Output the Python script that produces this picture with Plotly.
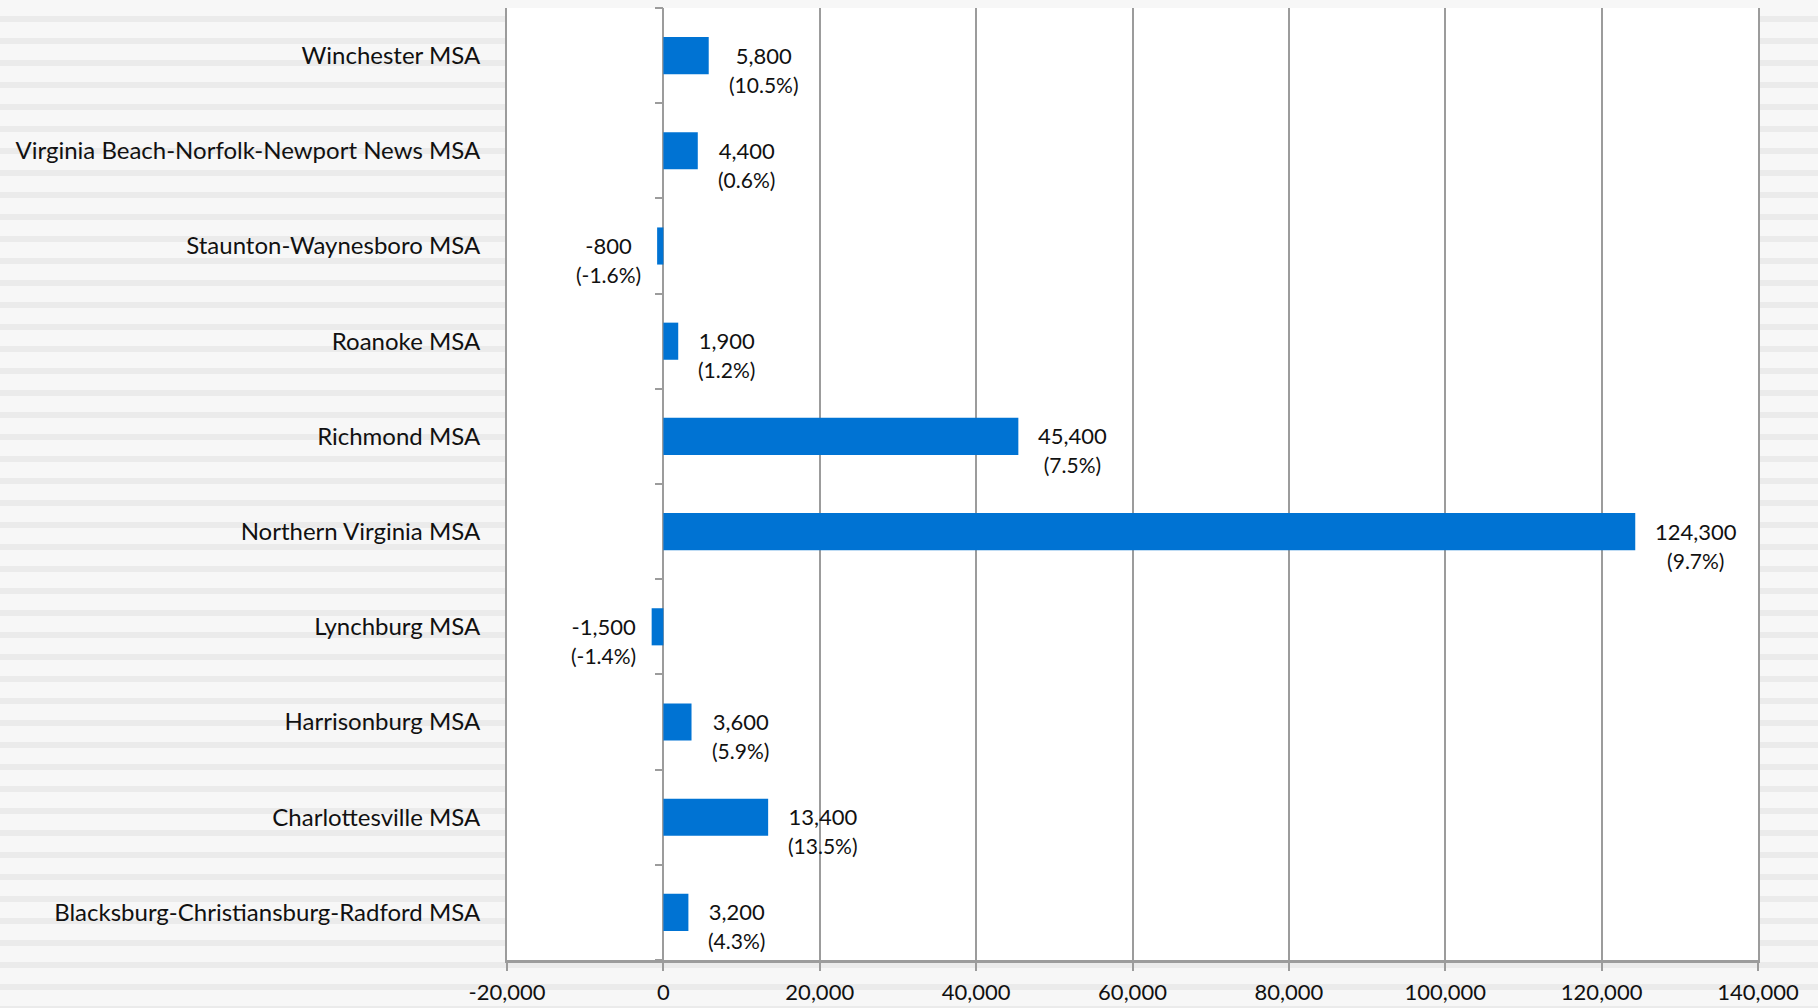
import plotly.graph_objects as go

# ---- data (bottom-to-top order as plotted) ----
categories = [
    "Blacksburg-Christiansburg-Radford MSA",
    "Charlottesville MSA",
    "Harrisonburg MSA",
    "Lynchburg MSA",
    "Northern Virginia MSA",
    "Richmond MSA",
    "Roanoke MSA",
    "Staunton-Waynesboro MSA",
    "Virginia Beach-Norfolk-Newport News MSA",
    "Winchester MSA",
]
job_change = [3200, 13400, 3600, -1500, 124300, 45400, 1900, -800, 4400, 5800]
pct_change = [4.3, 13.5, 5.9, -1.4, 9.7, 7.5, 1.2, -1.6, 0.6, 10.5]
x_tick_values = [-20000, 0, 20000, 40000, 60000, 80000, 100000, 120000, 140000]
x_tick_labels = ["-20,000", "0", "20,000", "40,000", "60,000", "80,000",
                 "100,000", "120,000", "140,000"]

# ---- style ----
W, H = 1818, 1008
ML, MR, MT, MB = 507, 60, 8, 48
FONT = "Lato"
BAR_COLOR = "#0073D3"
GRID = "#9c9c9c"
TEXT = "#111111"

fig = go.Figure()
fig.add_trace(go.Bar(
    x=job_change, y=categories, orientation="h",
    marker=dict(color=BAR_COLOR, line=dict(width=0)),
    yaxis="y", hoverinfo="x+y",
))
# invisible helper trace on the zero-line axis (draws category boundary ticks)
fig.add_trace(go.Scatter(
    x=[0] * len(categories), y=categories, mode="markers",
    marker=dict(opacity=0), yaxis="y2", hoverinfo="skip", showlegend=False,
))

# data labels
annotations = []
for c, v, p in zip(categories, job_change, pct_change):
    txt = f"{v:,}<br><span style='font-size:21px'>({p}%)</span>"
    annotations.append(dict(
        x=v, y=c, xref="x", yref="y", text=txt, showarrow=False,
        xanchor="left" if v >= 0 else "right",
        xshift=18 if v >= 0 else -14,
        yanchor="top", yshift=16, align="center",
        font=dict(family=FONT, size=22, color=TEXT),
    ))

# striped page background (decoration only)
plot_h = H - MT - MB
shapes = []
py = 16
while py < H:
    shapes.append(dict(
        type="rect", xref="paper", yref="paper", layer="below",
        x0=-1, x1=1.5,
        y0=(H - MB - (py + 6)) / plot_h, y1=(H - MB - py) / plot_h,
        fillcolor="#ebebeb", line=dict(width=0),
    ))
    py += 22
shapes.append(dict(type="rect", xref="paper", yref="paper", layer="below",
                   x0=0, x1=1, y0=0, y1=1, fillcolor="white", line=dict(width=0)))

fig.update_layout(
    width=W, height=H,
    margin=dict(l=ML, r=MR, t=MT, b=MB, autoexpand=False),
    paper_bgcolor="#f7f7f7", plot_bgcolor="white",
    showlegend=False, bargap=0.61,
    font=dict(family=FONT, size=24, color=TEXT),
    shapes=shapes, annotations=annotations,
    xaxis=dict(
        range=[-20000, 140000], tickvals=x_tick_values, ticktext=x_tick_labels,
        showgrid=True, gridcolor=GRID, gridwidth=1.6,
        zeroline=True, zerolinecolor=GRID, zerolinewidth=2,
        showline=True, linecolor=GRID, linewidth=3,
        ticks="outside", ticklen=8, tickwidth=2, tickcolor=GRID,
        ticklabelstandoff=3, automargin=False,
        tickfont=dict(family=FONT, size=22, color=TEXT),
    ),
    yaxis=dict(
        type="category", categoryorder="array", categoryarray=categories,
        range=[-0.5, 9.5], showgrid=False, zeroline=False,
        showline=True, mirror=True, linecolor=GRID, linewidth=2,
        ticks="", ticklabelstandoff=20, automargin=False,
        tickfont=dict(family=FONT, size=24, color=TEXT),
    ),
    yaxis2=dict(
        type="category", categoryorder="array", categoryarray=categories,
        matches="y", overlaying="y", anchor="free", position=0.125,
        showgrid=False, zeroline=False, showline=False, automargin=False,
        ticks="outside", tickson="boundaries", ticklen=8, tickwidth=2,
        tickcolor=GRID, showticklabels=False,
    ),
)

fig.write_html(
    "out.html",
    config={"displayModeBar": False},
    post_script="document.body.style.margin='0';document.body.style.overflow='hidden';",
)
